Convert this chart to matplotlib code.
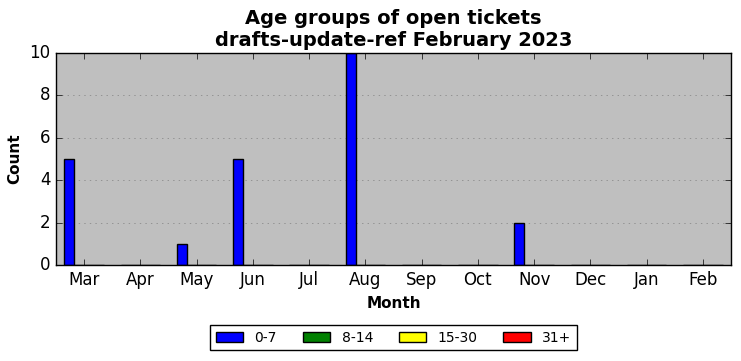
import numpy as np
import matplotlib
matplotlib.use("Agg")
import matplotlib.pyplot as plt

plt.style.use("classic")

months = ["Mar", "Apr", "May", "Jun", "Jul", "Aug", "Sep", "Oct", "Nov", "Dec", "Jan", "Feb"]
age_0_7 = [5, 0, 1, 5, 0, 10, 0, 0, 2, 0, 0, 0]
age_8_14 = [0, 0, 0, 0, 0, 0, 0, 0, 0, 0, 0, 0]
age_15_30 = [0, 0, 0, 0, 0, 0, 0, 0, 0, 0, 0, 0]
age_31_plus = [0, 0, 0, 0, 0, 0, 0, 0, 0, 0, 0, 0]

series = [("0-7", age_0_7, "blue"), ("8-14", age_8_14, "green"),
          ("15-30", age_15_30, "yellow"), ("31+", age_31_plus, "red")]

fig = plt.figure(figsize=(7.41, 3.61), dpi=100, facecolor="white")
ax = fig.add_axes([56 / 741, 1 - 265 / 361, 675 / 741, 212 / 361])
ax.set_facecolor("#bfbfbf")

x = np.arange(len(months))
width = 0.175
for i, (label, vals, color) in enumerate(series):
    ax.bar(x - 2 * width + i * width, vals, width, align="edge", color=color,
           edgecolor="black", label=label)

ax.set_xlim(-0.5, len(months) - 0.5)
ax.set_ylim(0, 10)
ax.set_xticks(x)
ax.set_xticklabels(months, fontsize=12)
ax.tick_params(axis="y", labelsize=12)
ax.yaxis.grid(True, linestyle=":", color="#808080")
ax.set_axisbelow(True)

ax.set_xlabel("Month", fontsize=11, fontweight="bold")
ax.set_ylabel("Count", fontsize=11, fontweight="bold", labelpad=5)
ax.set_title("Age groups of open tickets\ndrafts-update-ref February 2023",
             fontsize=14, fontweight="bold", pad=5)

# legend centred under the axes, near the bottom of the figure
ax.legend(loc="lower center", ncol=4, fontsize=10,
          bbox_to_anchor=(393.5 / 741, 0.01), bbox_transform=fig.transFigure,
          frameon=True, columnspacing=1.85)

fig.savefig("out.png", dpi=100, facecolor="white")
